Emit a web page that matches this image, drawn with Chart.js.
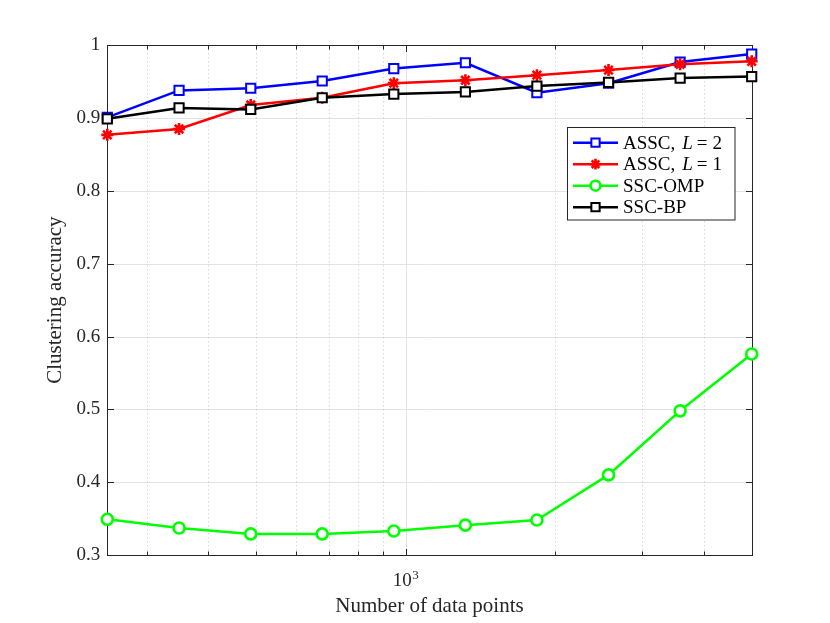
<!DOCTYPE html>
<html><head><meta charset="utf-8">
<script src="https://cdn.jsdelivr.net/npm/chart.js@4.4.0/dist/chart.umd.min.js"></script>
<style>html,body{margin:0;padding:0;background:#fff;}#wrap{width:830px;height:623px;}</style>
</head><body><div id="wrap"><canvas id="c" width="830" height="623"></canvas></div>
<script>
// ---- data ----
const dataPoints = [250, 349, 487, 679, 947, 1321, 1842, 2570, 3585, 5000];
const asscL2 = [0.901, 0.938, 0.941, 0.951, 0.968, 0.976, 0.935, 0.948, 0.977, 0.988];
const asscL1 = [0.877, 0.885, 0.918, 0.928, 0.948, 0.952, 0.959, 0.966, 0.974, 0.978];
const sscOMP = [0.349, 0.337, 0.329, 0.329, 0.333, 0.341, 0.348, 0.410, 0.498, 0.576];
const sscBP  = [0.899, 0.914, 0.912, 0.928, 0.933, 0.936, 0.944, 0.949, 0.955, 0.957];
const yTicks = [0.3, 0.4, 0.5, 0.6, 0.7, 0.8, 0.9, 1.0];
const xMajorTicks = [1000];
const xMinorTicks = [300, 400, 500, 600, 700, 800, 900, 2000, 3000, 4000];
const xLabel = 'Number of data points';
const yLabel = 'Clustering accuracy';

const FONT = '"Liberation Serif", "Times New Roman", serif';
const AX = '#262626';

function pts(arr){ return dataPoints.map((x,i)=>({x:x, y:arr[i]})); }

const series = [
  {label:'ASSC, L = 2', data:asscL2, color:'#0000ff', style:'rect', r:6.5, bw:2, order:3},
  {label:'ASSC, L = 1', data:asscL1, color:'#ff0000', style:'star', r:6, bw:2.6, order:2},
  {label:'SSC-OMP', data:sscOMP, color:'#00ff00', style:'circle', r:5.5, bw:2.6, order:1},
  {label:'SSC-BP', data:sscBP, color:'#000000', style:'rect', r:6.5, bw:2, order:0}
];

const axesPlugin = {
  id:'matlabAxes',
  beforeDatasetsDraw(chart){
    const ctx = chart.ctx, a = chart.chartArea;
    const xs = chart.scales.x, ys = chart.scales.y;
    ctx.save();
    // y grid
    ctx.strokeStyle = '#e3e3e3'; ctx.lineWidth = 1;
    yTicks.forEach(v=>{
      const y = Math.round(ys.getPixelForValue(v))+0.5;
      ctx.beginPath(); ctx.moveTo(a.left,y); ctx.lineTo(a.right,y); ctx.stroke();
    });
    // x minor grid dotted
    ctx.strokeStyle = '#c4c4c4'; ctx.setLineDash([1,3]);
    xMinorTicks.forEach(v=>{
      const x = Math.round(xs.getPixelForValue(v))+0.5;
      ctx.beginPath(); ctx.moveTo(x,a.top); ctx.lineTo(x,a.bottom); ctx.stroke();
    });
    ctx.setLineDash([]);
    ctx.strokeStyle = '#e3e3e3';
    xMajorTicks.forEach(v=>{
      const x = Math.round(xs.getPixelForValue(v))+0.5;
      ctx.beginPath(); ctx.moveTo(x,a.top); ctx.lineTo(x,a.bottom); ctx.stroke();
    });
    // box
    ctx.strokeStyle = AX; ctx.lineWidth = 1;
    const L = Math.round(a.left)+0.5, R = Math.round(a.right)+0.5, T = Math.round(a.top)+0.5, B = Math.round(a.bottom)+0.5;
    ctx.strokeRect(L, T, R-L, B-T);
    // ticks
    ctx.beginPath();
    yTicks.forEach(v=>{
      const y = Math.round(ys.getPixelForValue(v))+0.5;
      ctx.moveTo(L,y); ctx.lineTo(L+6.5,y);
      ctx.moveTo(R,y); ctx.lineTo(R-6.5,y);
    });
    xMinorTicks.forEach(v=>{
      const x = Math.round(xs.getPixelForValue(v))+0.5;
      ctx.moveTo(x,B); ctx.lineTo(x,B-4);
      ctx.moveTo(x,T); ctx.lineTo(x,T+4);
    });
    xMajorTicks.forEach(v=>{
      const x = Math.round(xs.getPixelForValue(v))+0.5;
      ctx.moveTo(x,B); ctx.lineTo(x,B-6.5);
      ctx.moveTo(x,T); ctx.lineTo(x,T+6.5);
    });
    ctx.stroke();
    ctx.restore();
  },
  afterDraw(chart){
    const ctx = chart.ctx;
    const xs = chart.scales.x;
    ctx.save();
    // x tick label 10^3
    xMajorTicks.forEach(v=>{
      const x = xs.getPixelForValue(v);
      const base = '10';
      const exp = String(Math.round(Math.log10(v)));
      ctx.fillStyle = AX;
      ctx.font = '19px ' + FONT;
      const w1 = ctx.measureText(base).width;
      ctx.font = '13px ' + FONT;
      const w2 = ctx.measureText(exp).width;
      const x0 = x - (w1+w2)/2;
      ctx.textBaseline = 'alphabetic'; ctx.textAlign = 'left';
      ctx.font = '19px ' + FONT;
      ctx.fillText(base, x0, 586);
      ctx.font = '13px ' + FONT;
      ctx.fillText(exp, x0 + w1 + 0.5, 579);
    });
    // legend
    const bx = 567.5, by = 127.5, bw = 167.5, bh = 92.5;
    ctx.fillStyle = '#ffffff';
    ctx.fillRect(bx, by, bw, bh);
    ctx.strokeStyle = AX; ctx.lineWidth = 1;
    ctx.strokeRect(bx, by, bw, bh);
    const rows = [142.7, 164.2, 185.7, 207.2];
    series.forEach((s,i)=>{
      const y = rows[i];
      ctx.strokeStyle = s.color; ctx.lineWidth = 2.5;
      ctx.beginPath(); ctx.moveTo(573, y); ctx.lineTo(618, y); ctx.stroke();
      ctx.fillStyle = '#ffffff'; ctx.strokeStyle = s.color; ctx.lineWidth = s.bw;
      Chart.helpers.drawPoint(ctx, {pointStyle:s.style, radius:s.r*0.9, borderWidth:s.bw, rotation:0}, 595.5, y);
      ctx.fillStyle = '#000000';
      ctx.textBaseline = 'alphabetic'; ctx.textAlign = 'left';
      const ty = y + 6;
      let tx = 623;
      const m = s.label.match(/^(.*), L = (\d)$/);
      if (m) {
        ctx.font = '19px ' + FONT;
        const p1 = m[1] + ',';
        ctx.fillText(p1, tx, ty);
        tx += ctx.measureText(p1).width + 7;
        ctx.font = 'italic 19px ' + FONT;
        ctx.fillText('L', tx, ty);
        tx += ctx.measureText('L').width + 4;
        ctx.font = '19px ' + FONT;
        ctx.fillText('=', tx, ty);
        tx += ctx.measureText('=').width + 5;
        ctx.fillText(m[2], tx, ty);
      } else {
        ctx.font = '19px ' + FONT;
        ctx.fillText(s.label, tx, ty);
      }
    });
    ctx.restore();
  }
};

new Chart(document.getElementById('c'), {
  type:'line',
  data:{
    datasets: series.map(s=>({
      label:s.label, data:pts(s.data), borderColor:s.color, backgroundColor:s.color,
      borderWidth:2.5, pointStyle:s.style, pointRadius:s.r, pointBorderWidth:s.bw,
      pointBackgroundColor:'#ffffff', pointBorderColor:s.color, pointHoverRadius:s.r,
      tension:0, fill:false, clip:false, order:s.order
    }))
  },
  options:{
    responsive:false, animation:false, devicePixelRatio:1,
    layout:{padding:{top:45.3, right:78.3, bottom:0, left:0}},
    plugins:{legend:{display:false}, tooltip:{enabled:false}},
    scales:{
      x:{
        type:'logarithmic', min:250, max:5000,
        afterBuildTicks(s){ s.ticks = xMinorTicks.concat(xMajorTicks).sort((a,b)=>a-b).map(v=>({value:v})); },
        afterFit(s){ s.height = 68; },
        ticks:{display:false},
        grid:{display:false, drawTicks:false},
        border:{display:false},
        title:{display:true, text:xLabel, color:AX, font:{family:FONT, size:21}, padding:{top:0, bottom:4.4}}
      },
      y:{
        type:'linear', min:0.3, max:1,
        afterBuildTicks(s){ s.ticks = yTicks.map(v=>({value:v})); },
        afterFit(s){ s.width = 107.3; },
        ticks:{color:AX, font:{family:FONT, size:19}, padding:7,
          callback(v){ return v === 1 ? '1' : Number(v).toFixed(1); }},
        grid:{display:false, drawTicks:false},
        border:{display:false},
        title:{display:true, text:yLabel, color:AX, font:{family:FONT, size:21}, padding:{top:42.5, bottom:0}}
      }
    }
  },
  plugins:[axesPlugin]
});
</script></body></html>
